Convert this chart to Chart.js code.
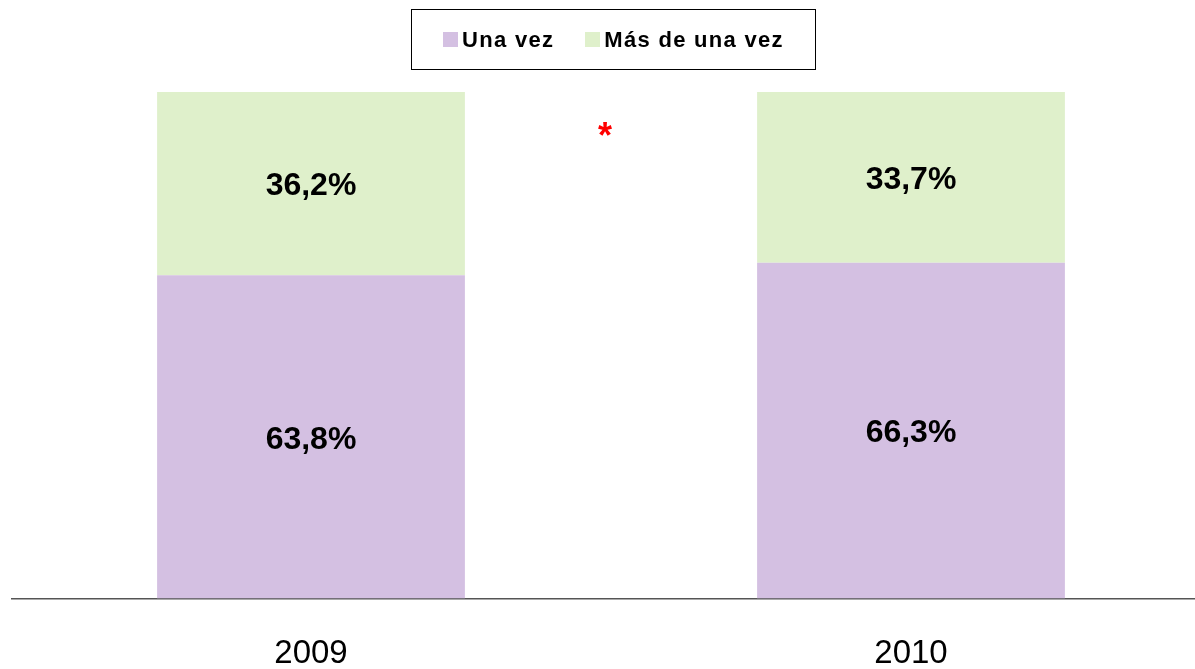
<!DOCTYPE html>
<html lang="es">
<head>
<meta charset="UTF-8">
<title>Una vez / Más de una vez</title>
<script src="https://cdn.jsdelivr.net/npm/chart.js@4.4.0/dist/chart.umd.min.js"></script>
<style>
    html, body { margin: 0; padding: 0; background: #fff; overflow: hidden; }
    .wrap { position: relative; width: 1195px; height: 669px; overflow: hidden; }
    .grafico { position: absolute; left: 11px; top: 0; width: 1200px; height: 710px; }
    .leyenda {
        position: absolute; left: 411px; top: 9px; width: 403px; height: 59px;
        border: 1px solid #000; box-sizing: content-box;
        font-family: Arial, "Liberation Sans", sans-serif; font-weight: bold; font-size: 22px;
        letter-spacing: 1.3px;
        display: flex; align-items: center; justify-content: center; gap: 31px;
    }
    .leyenda span.item { display: flex; align-items: center; }
    .leyenda i { display: inline-block; width: 15px; height: 15px; margin-right: 4px; }
    .asterisco {
        position: absolute; left: 598px; top: 115px;
        font-family: Arial, "Liberation Sans", sans-serif; font-weight: bold; font-size: 36px; color: #ff0000;
    }
</style>
</head>
<body>
<div class="wrap">
    <div class="grafico"><canvas id="graficoVeces"></canvas></div>
    <div class="leyenda" id="leyenda"></div>
    <div class="asterisco">*</div>
</div>

<script>
    // datos
    const anios = ['2009', '2010'];
    const unaVez = [63.8, 66.3];
    const masDeUnaVez = [36.2, 33.7];
    const nombres = ['Una vez', 'Más de una vez'];
    const colores = ['#d4c0e2', '#dff0cb'];

    // leyenda con caja
    leyenda.innerHTML = nombres.map(function (n, i) {
        return `<span class="item"><i style="background:${colores[i]}"></i>${n}</span>`;
    }).join('');

    // etiquetas de porcentaje en el centro de cada tramo
    const etiquetas = {
        id: 'etiquetas',
        afterDatasetsDraw(chart) {
            const ctx = chart.ctx;
            ctx.save();
            ctx.font = 'bold 32px Arial, "Liberation Sans", sans-serif';
            ctx.fillStyle = '#000';
            ctx.textAlign = 'center';
            ctx.textBaseline = 'middle';
            chart.data.datasets.forEach(function (ds, d) {
                chart.getDatasetMeta(d).data.forEach(function (bar, i) {
                    const y = (bar.y + bar.base) / 2 + 3;
                    ctx.fillText(ds.data[i].toFixed(1).replace('.', ',') + '%', bar.x, y);
                });
            });
            ctx.restore();
        }
    };

    new Chart(document.getElementById('graficoVeces'), {
        type: 'bar',
        data: {
            labels: anios,
            datasets: [
                { label: nombres[0], data: unaVez, backgroundColor: colores[0] },
                { label: nombres[1], data: masDeUnaVez, backgroundColor: colores[1] }
            ]
        },
        options: {
            responsive: true,
            maintainAspectRatio: false,
            animation: false,
            barPercentage: 0.513,
            categoryPercentage: 1,
            layout: { padding: { top: 92, left: 0, right: 0, bottom: 0 } },
            plugins: {
                legend: { display: false },
                tooltip: { enabled: false }
            },
            scales: {
                x: {
                    stacked: true,
                    grid: { display: false, drawTicks: false },
                    border: { display: true, color: '#555', width: 1.5 },
                    ticks: {
                        padding: 36,
                        color: '#000',
                        font: { family: 'Arial, "Liberation Sans", sans-serif', size: 33 }
                    }
                },
                y: {
                    stacked: true,
                    min: 0,
                    max: 100,
                    display: false
                }
            }
        },
        plugins: [etiquetas]
    });
</script>
</body>
</html>
